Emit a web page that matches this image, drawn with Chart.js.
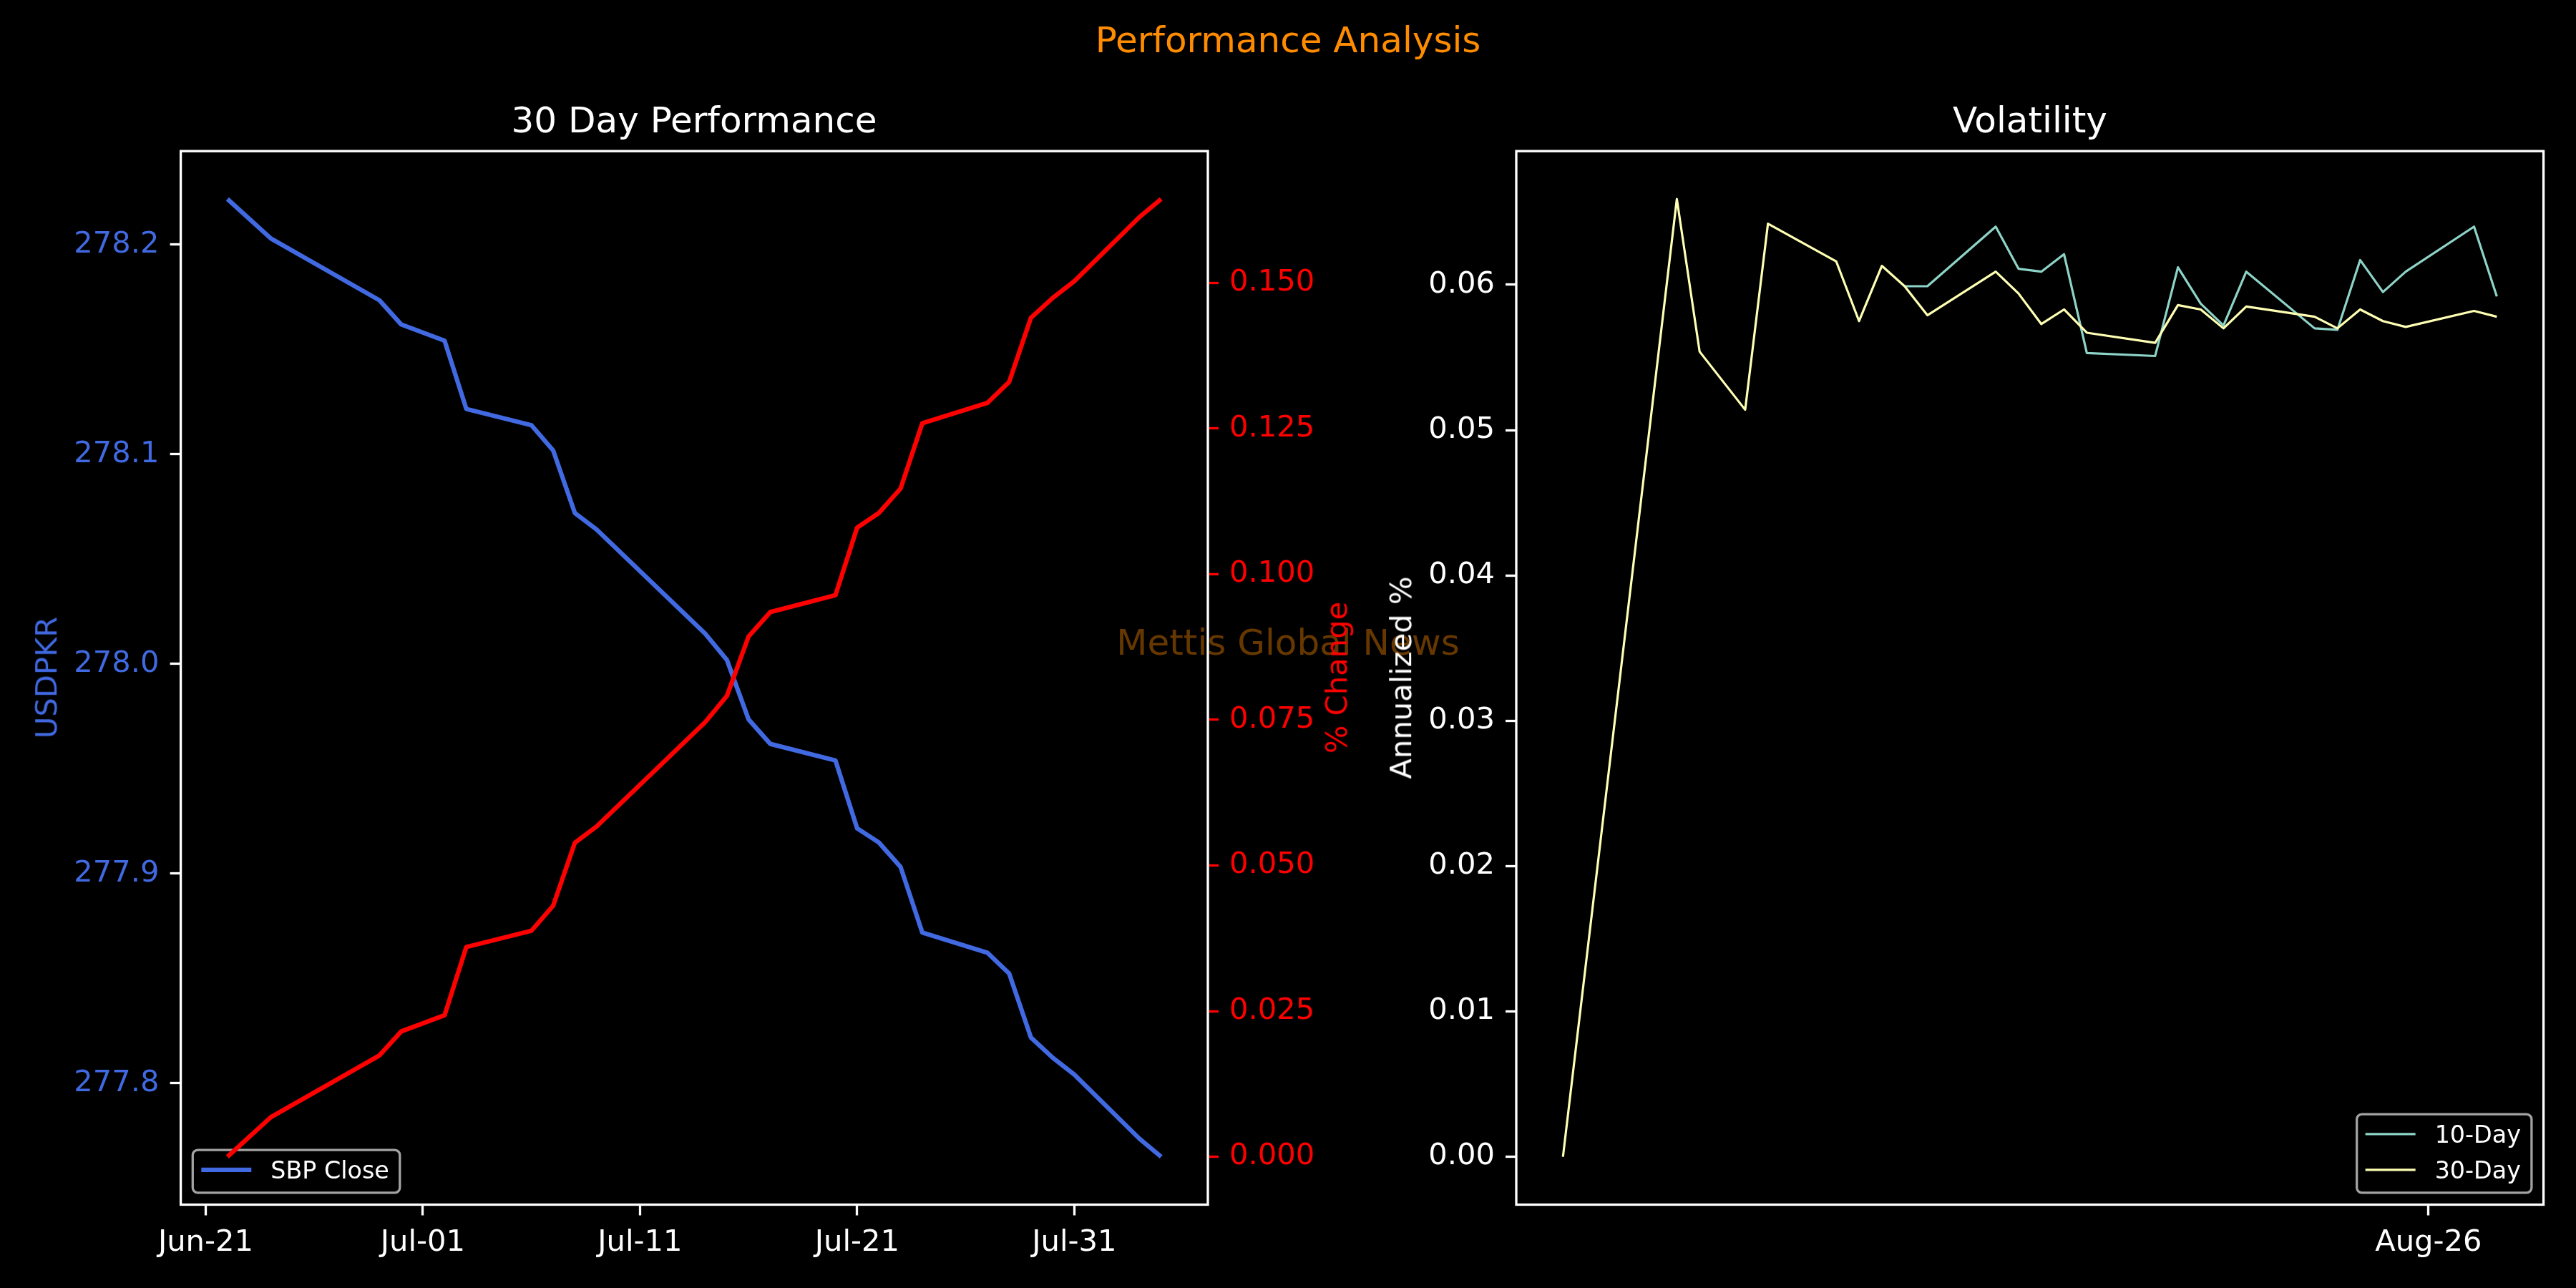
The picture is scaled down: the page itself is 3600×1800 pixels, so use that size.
<!DOCTYPE html>
<html>
<head>
<meta charset="utf-8">
<title>Performance Analysis</title>
<script src="https://cdn.jsdelivr.net/npm/chart.js@4.4.1/dist/chart.umd.min.js"></script>
<style>
  html, body { margin: 0; padding: 0; background: #000; }
  #fig { position: relative; width: 3600px; height: 1800px; background: #000; overflow: hidden;
         font-family: 'DejaVu Sans', sans-serif; }
  #fig canvas { position: absolute; top: 0; }
  .txt { position: absolute; white-space: nowrap; line-height: 1; }
  .centered { transform: translateX(-50%); }
  .vlabel { font-size: 41.67px; transform: translate(-50%, -50%) rotate(-90deg); }
</style>
</head>
<body>
<div id="fig">
  <div class="txt centered" style="left:1800px; top:872.7px; font-size:50px; color:rgba(255,140,0,0.4)">Mettis Global News</div>

  <canvas id="perfChart" width="1960" height="1800" style="left:0; width:1960px; height:1800px"></canvas>
  <canvas id="volChart" width="1800" height="1800" style="left:1800px; width:1800px; height:1800px"></canvas>

  <div class="txt centered" style="left:1800px; top:30.7px; font-size:50px; color:#ff8c00">Performance Analysis</div>
  <div class="txt centered" style="left:970px; top:142.7px; font-size:50px; color:#fff">30 Day Performance</div>
  <div class="txt centered" style="left:2837px; top:142.7px; font-size:50px; color:#fff">Volatility</div>
  <div class="txt vlabel" style="left:65px; top:947px; color:#4169e1">USDPKR</div>
  <div class="txt vlabel" style="left:1868px; top:947px; color:#ff0000">% Change</div>
  <div class="txt vlabel" style="left:1958px; top:947px; color:#fff">Annualized %</div>
</div>

<script>
// ---- values ----
var perfDates = ['2023-06-22', '2023-06-24', '2023-06-29', '2023-06-30', '2023-07-02', '2023-07-03',
                 '2023-07-06', '2023-07-07', '2023-07-08', '2023-07-09', '2023-07-14', '2023-07-15',
                 '2023-07-16', '2023-07-17', '2023-07-20', '2023-07-21', '2023-07-22', '2023-07-23',
                 '2023-07-24', '2023-07-27', '2023-07-28', '2023-07-29', '2023-07-30', '2023-07-31',
                 '2023-08-03', '2023-08-04'];
var sbpClose = [278.2217, 278.2029, 278.1734, 278.1619, 278.1541, 278.1216,
                278.1138, 278.1018, 278.0719, 278.0641, 278.0144, 278.0019,
                277.9735, 277.9618, 277.9539, 277.9215, 277.9148, 277.9031,
                277.8718, 277.8622, 277.8523, 277.8218, 277.8122, 277.8041,
                277.7735, 277.7649];
var pctChange = [0.0000, 0.0068, 0.0174, 0.0215, 0.0243, 0.0360,
                 0.0388, 0.0431, 0.0539, 0.0567, 0.0746, 0.0791,
                 0.0893, 0.0935, 0.0964, 0.1080, 0.1105, 0.1147,
                 0.1259, 0.1294, 0.1330, 0.1440, 0.1474, 0.1503,
                 0.1613, 0.1644];
var perfTickDates = ['2023-06-21', '2023-07-01', '2023-07-11', '2023-07-21', '2023-07-31'];
var perfTickLabels = ['Jun-21', 'Jul-01', 'Jul-11', 'Jul-21', 'Jul-31'];
var closeTicks = [277.8, 277.9, 278.0, 278.1, 278.2];
var pctTicks = [0, 0.025, 0.05, 0.075, 0.1, 0.125, 0.15];

var volDates = ['2023-07-19', '2023-07-24', '2023-07-25', '2023-07-27', '2023-07-28', '2023-07-31',
                '2023-08-01', '2023-08-02', '2023-08-03', '2023-08-04', '2023-08-07', '2023-08-08',
                '2023-08-09', '2023-08-10', '2023-08-11', '2023-08-14', '2023-08-15', '2023-08-16',
                '2023-08-17', '2023-08-18', '2023-08-21', '2023-08-22', '2023-08-23', '2023-08-24',
                '2023-08-25', '2023-08-28', '2023-08-29'];
var vol10 = [null, null, null, null, null, null, null, null, 0.0599, 0.0599, 0.0640, 0.0611,
             0.0609, 0.0621, 0.0553, 0.0551, 0.0612, 0.0587, 0.0572, 0.0609, 0.0570, 0.0569,
             0.0617, 0.0595, 0.0609, 0.0640, 0.0592];
var vol30 = [0.0000, 0.0659, 0.0554, 0.0514, 0.0642, 0.0616, 0.0575, 0.0613, 0.0599, 0.0579,
             0.0609, 0.0594, 0.0573, 0.0583, 0.0567, 0.0560, 0.0586, 0.0583, 0.0570, 0.0585,
             0.0578, 0.0570, 0.0583, 0.0575, 0.0571, 0.0582, 0.0578];
var volTickDates = ['2023-08-26'];
var volTickLabels = ['Aug-26'];
var volTicks = [0, 0.01, 0.02, 0.03, 0.04, 0.05, 0.06];

// ---- helpers ----
var TICK_FONT = 41.67;
var LEGEND_FONT = 33.33;

function dayNum(iso) { return Date.parse(iso) / 864e5; }

function points(dates, vals) {
    return dates.map(function(d, i) { return {x: dayNum(d), y: vals[i]}; });
}

// same 5% padding matplotlib puts round the data
function margins(vals) {
    var v = vals.filter(function(n) { return n !== null; });
    var lo = Math.min.apply(null, v), hi = Math.max.apply(null, v);
    var pad = (hi - lo) * 0.05;
    return {min: lo - pad, max: hi + pad};
}

function fixedTicks(values) {
    return function(scale) {
        scale.ticks = values.map(function(v) { return {value: v}; });
    };
}

function tickGrid(color) {
    return {drawOnChartArea: false, drawTicks: true, tickLength: 15, tickWidth: 3.3, tickColor: color};
}

function yAxis(position, width, values, decimals, labelColor, markColor, range) {
    return {
        type: 'linear', position: position, min: range.min, max: range.max,
        afterFit: function(s) { s.width = width; },
        afterBuildTicks: fixedTicks(values),
        grid: tickGrid(markColor),
        border: {display: false},
        ticks: {color: labelColor, padding: 15, font: {size: TICK_FONT},
                callback: function(v) { return Number(v).toFixed(decimals); }}
    };
}

function xAxis(height, tickDates, tickLabels, range) {
    return {
        type: 'linear', position: 'bottom', min: range.min, max: range.max,
        afterFit: function(s) { s.height = height; },
        afterBuildTicks: fixedTicks(tickDates.map(dayNum)),
        grid: tickGrid('#ffffff'),
        border: {display: false},
        ticks: {color: '#ffffff', padding: 13.5, maxRotation: 0, minRotation: 0, autoSkip: false,
                font: {size: TICK_FONT},
                callback: function(v, i) { return tickLabels[i]; }}
    };
}

// white box round the plot area
var framePlugin = {
    id: 'frame',
    afterDatasetsDraw: function(chart) {
        var a = chart.chartArea, ctx = chart.ctx;
        ctx.save();
        ctx.strokeStyle = '#ffffff';
        ctx.lineWidth = 3.3;
        ctx.strokeRect(a.left, a.top, a.right - a.left, a.bottom - a.top);
        ctx.restore();
    }
};

function roundRect(ctx, x, y, w, h, r) {
    ctx.beginPath();
    ctx.moveTo(x + r, y);
    ctx.arcTo(x + w, y, x + w, y + h, r);
    ctx.arcTo(x + w, y + h, x, y + h, r);
    ctx.arcTo(x, y + h, x, y, r);
    ctx.arcTo(x, y, x + w, y, r);
    ctx.closePath();
}

// matplotlib-like legend box inside the plot corner
var boxLegend = {
    id: 'boxLegend',
    afterDatasetDraw: function(chart, args, opts) {
        if (args.index !== opts.after) return;
        var ctx = chart.ctx, a = chart.chartArea;
        var items = chart.data.datasets.filter(function(d) { return d.inLegend !== false; });
        ctx.save();
        ctx.font = LEGEND_FONT + "px 'DejaVu Sans'";
        var textW = Math.max.apply(null, items.map(function(d) { return ctx.measureText(d.label).width; }));
        var w = 109 + textW + 15;
        var h = 27.6 + (items.length - 1) * 50 + 32;
        var x = opts.side === 'right' ? a.right - 16.7 - w : a.left + 16.7;
        var y = a.bottom - 16.7 - h;
        roundRect(ctx, x, y, w, h, 7);
        ctx.fillStyle = 'rgba(0,0,0,0.8)';
        ctx.fill();
        ctx.lineWidth = 3.3;
        ctx.strokeStyle = 'rgba(204,204,204,0.8)';
        ctx.stroke();
        items.forEach(function(d, i) {
            var cy = y + 27.6 + i * 50;
            ctx.beginPath();
            ctx.moveTo(x + 12, cy);
            ctx.lineTo(x + 82, cy);
            ctx.strokeStyle = d.borderColor;
            ctx.lineWidth = d.borderWidth;
            ctx.stroke();
            ctx.fillStyle = '#ffffff';
            ctx.textBaseline = 'alphabetic';
            ctx.fillText(d.label, x + 109, cy + 12.2);
        });
        ctx.restore();
    }
};

Chart.defaults.font.family = "'DejaVu Sans'";
Chart.defaults.color = '#ffffff';

function lineSet(label, pts, color, width, order, extra) {
    var ds = {label: label, data: pts, borderColor: color, backgroundColor: color, borderWidth: width,
              pointRadius: 0, pointHoverRadius: 0, tension: 0, fill: false, order: order,
              borderJoinStyle: 'round', spanGaps: false};
    for (var k in extra) ds[k] = extra[k];
    return ds;
}

// ---- left: 30 day performance ----
var perfX = margins(perfDates.map(dayNum));
var perfChart = new Chart(document.getElementById('perfChart'), {
    type: 'line',
    data: {
        datasets: [
            lineSet('SBP Close', points(perfDates, sbpClose), '#4169e1', 6.25, 1, {yAxisID: 'y'}),
            lineSet('% Change', points(perfDates, pctChange), '#ff0000', 6.25, 0, {yAxisID: 'y1', inLegend: false})
        ]
    },
    options: {
        responsive: false, animation: false, devicePixelRatio: 1,
        layout: {padding: {top: 211.2, left: 0, right: 72, bottom: 0}},
        scales: {
            x: xAxis(116.5, perfTickDates, perfTickLabels, perfX),
            y: yAxis('left', 252.6, closeTicks, 1, '#4169e1', '#ffffff', margins(sbpClose)),
            y1: yAxis('right', 200, pctTicks, 3, '#ff0000', '#ff0000', margins(pctChange))
        },
        plugins: {
            legend: {display: false}, tooltip: {enabled: false}, title: {display: false},
            boxLegend: {side: 'left', after: 0}
        }
    },
    plugins: [framePlugin, boxLegend]
});

// ---- right: volatility ----
var volX = margins(volDates.map(dayNum));
var volChart = new Chart(document.getElementById('volChart'), {
    type: 'line',
    data: {
        datasets: [
            lineSet('10-Day', points(volDates, vol10), '#8dd3c7', 3.2, 1, {}),
            lineSet('30-Day', points(volDates, vol30), '#feffb3', 3.2, 0, {})
        ]
    },
    options: {
        responsive: false, animation: false, devicePixelRatio: 1,
        layout: {padding: {top: 211.2, left: 0, right: 45.4, bottom: 0}},
        scales: {
            x: xAxis(116.5, volTickDates, volTickLabels, volX),
            y: yAxis('left', 319, volTicks, 2, '#ffffff', '#ffffff', margins(vol10.concat(vol30)))
        },
        plugins: {
            legend: {display: false}, tooltip: {enabled: false}, title: {display: false},
            boxLegend: {side: 'right', after: 1}
        }
    },
    plugins: [framePlugin, boxLegend]
});
</script>
</body>
</html>
